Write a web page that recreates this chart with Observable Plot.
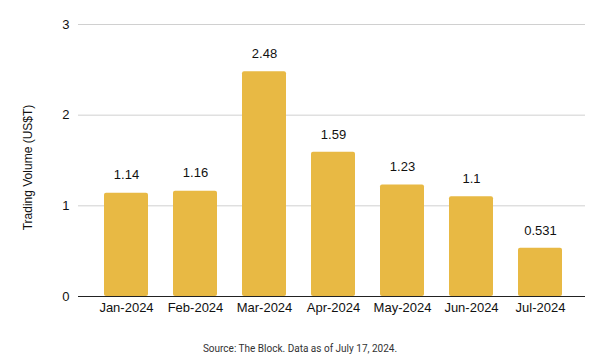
<!DOCTYPE html>
<html><head><meta charset="utf-8">
<script src="https://cdn.jsdelivr.net/npm/d3@7"></script>
<script src="https://cdn.jsdelivr.net/npm/@observablehq/plot@0.6"></script>
<style>
body{margin:0;background:#fff;}
#chart{width:600px;}
#cap{width:600px;text-align:center;font-family:"Roboto",sans-serif;font-size:10px;color:#333;margin-top:5px;}
</style>
</head><body>
<div id="chart"></div>
<div id="cap">Source: The Block. Data as of July 17, 2024.</div>
<script>
const months = ["Jan-2024","Feb-2024","Mar-2024","Apr-2024","May-2024","Jun-2024","Jul-2024"];
const volumes = [1.14, 1.16, 2.48, 1.59, 1.23, 1.1, 0.531];
const yTicks = [0, 1, 2, 3];
const data = months.map((m, i) => ({month: m, value: volumes[i]}));

const chart = Plot.plot({
  width: 600,
  height: 338,
  marginLeft: 90,
  marginRight: 24,
  marginTop: 24,
  marginBottom: 42,
  style: {fontFamily: "Liberation Sans, Arial, sans-serif", fontSize: "13px", color: "#111"},
  x: {domain: months, paddingInner: 0.365, paddingOuter: 0.183, label: null},
  y: {domain: [0, 3], ticks: yTicks, label: null},
  marks: [
    Plot.ruleY(yTicks.filter(d => d > 0), {stroke: "#d0d0d0", strokeWidth: 1, insetLeft: -12, insetRight: -9}),
    Plot.barY(data, {x: "month", y: "value", fill: "#E8B944", rx: 2}),
    Plot.ruleY([0], {stroke: "#222", strokeWidth: 1.2, insetLeft: -12, insetRight: -9}),
    Plot.text(data, {x: "month", y: "value", text: d => String(d.value), dy: -18, fontSize: 13, fill: "#111"}),
    Plot.axisX({tickSize: 0, tickPadding: 6, fontSize: 13, label: null}),
    Plot.axisY({ticks: yTicks, tickFormat: "d", tickSize: 0, tickPadding: 21, fontSize: 13, label: null}),
    Plot.text(["Trading Volume (US$T)"], {frameAnchor: "left", dx: -62, dy: 7, rotate: -90, textAnchor: "middle", fontSize: 12, fill: "#111"})
  ]
});
document.getElementById("chart").appendChild(chart);
</script>
</body></html>
